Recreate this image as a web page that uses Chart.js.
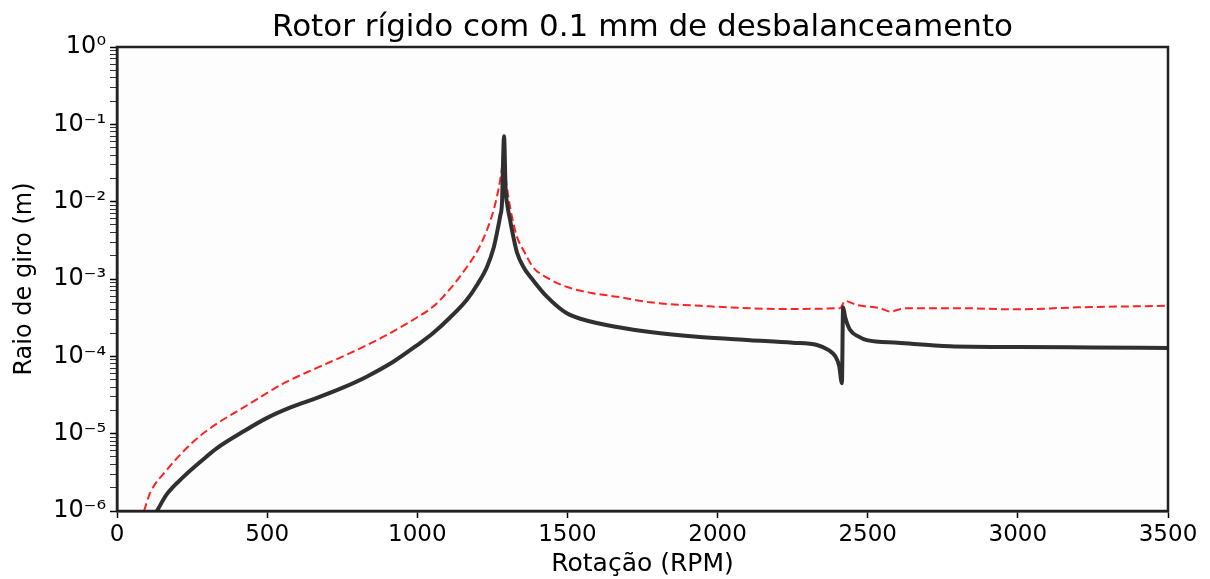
<!DOCTYPE html>
<html>
<head>
<meta charset="utf-8">
<script src="https://cdn.jsdelivr.net/npm/chart.js@4.4.0/dist/chart.umd.min.js"></script>
<style>
    html, body { margin: 0; padding: 0; background: #fff; }
    #wrap { width: 1210px; height: 579px; }
</style>
</head>
<body>
<div id="wrap"><canvas id="rotorChart"></canvas></div>
<script>
// Curva preta (sólida)
const blackRpm = [133, 166, 223, 280, 333, 423, 500, 580, 666, 750, 833, 920, 1000, 1053, 1110, 1165, 1200, 1232, 1255, 1265, 1276, 1282, 1289, 1294, 1300, 1309, 1320, 1332, 1355, 1385, 1430, 1498, 1580, 1665, 1775, 1941, 2108, 2250, 2331, 2370, 2392, 2405, 2414, 2418, 2425, 2441, 2470, 2497, 2600, 2774, 3000, 3250, 3500];
const blackRadius = [1.0e-6, 1.65e-6, 2.8e-6, 4.4e-6, 6.5e-6, 1.08e-5, 1.6e-5, 2.2e-5, 2.9e-5, 3.9e-5, 5.5e-5, 8.5e-5, 1.4e-4, 2.0e-4, 3.2e-4, 5.4e-4, 8.5e-4, 1.43e-3, 2.6e-3, 3.9e-3, 6.5e-3, 9.6e-3, 7.0e-2, 1.5e-2, 9.0e-3, 5.8e-3, 3.5e-3, 2.2e-3, 1.4e-3, 9.7e-4, 6.0e-4, 3.6e-4, 2.8e-4, 2.4e-4, 2.06e-4, 1.78e-4, 1.62e-4, 1.5e-4, 1.4e-4, 1.2e-4, 1.0e-4, 7.5e-5, 4.5e-5, 4.3e-4, 3.2e-4, 2.2e-4, 1.8e-4, 1.62e-4, 1.5e-4, 1.35e-4, 1.32e-4, 1.3e-4, 1.28e-4];

// Curva vermelha (tracejada)
const redRpm = [90, 110, 166, 223, 276, 333, 423, 556, 666, 776, 886, 1000, 1053, 1110, 1165, 1200, 1232, 1255, 1265, 1276, 1282, 1287, 1292, 1300, 1309, 1320, 1332, 1355, 1385, 1430, 1498, 1580, 1665, 1775, 1941, 2218, 2408, 2425, 2464, 2540, 2574, 2630, 2800, 2997, 3200, 3497];
const redRadius = [1.0e-6, 1.7e-6, 3.4e-6, 6.0e-6, 9.3e-6, 1.35e-5, 2.2e-5, 4.5e-5, 7.1e-5, 1.1e-4, 1.78e-4, 3.2e-4, 4.4e-4, 7.5e-4, 1.43e-3, 2.3e-3, 4.3e-3, 8.0e-3, 1.15e-2, 1.9e-2, 2.8e-2, 4.5e-2, 2.5e-2, 1.4e-2, 8.5e-3, 5.3e-3, 3.5e-3, 2.3e-3, 1.43e-3, 1.05e-3, 7.9e-4, 6.6e-4, 5.9e-4, 5.0e-4, 4.5e-4, 4.1e-4, 4.2e-4, 5.2e-4, 4.6e-4, 4.2e-4, 3.8e-4, 4.2e-4, 4.2e-4, 4.05e-4, 4.3e-4, 4.5e-4];

// Eixos
const chartTitle = 'Rotor rígido com 0.1 mm de desbalanceamento';
const xTicks = [0, 500, 1000, 1500, 2000, 2500, 3000, 3500];
const yExponents = [-6, -5, -4, -3, -2, -1, 0];
const yTickLabels = ['10⁻⁶', '10⁻⁵', '10⁻⁴', '10⁻³', '10⁻²', '10⁻¹', '10⁰'];
const yMinorMantissas = [2, 3, 4, 5, 6, 7, 8, 9];

const toPoints = (xs, ys) => xs.map((x, i) => ({ x: x, y: ys[i] }));

// fundo, moldura e título centrado na área do gráfico (como o matplotlib)
const framePlugin = {
    id: 'frame',
    beforeDraw(chart) {
        const { ctx, chartArea: a } = chart;
        ctx.save();
        ctx.fillStyle = '#fdfdfd';
        ctx.fillRect(a.left, a.top, a.right - a.left, a.bottom - a.top);
        ctx.restore();
    },
    afterDatasetsDraw(chart) {
        const { ctx, chartArea: a } = chart;
        ctx.save();
        ctx.strokeStyle = '#222';
        ctx.lineWidth = 2.5;
        ctx.strokeRect(a.left, a.top, a.right - a.left, a.bottom - a.top);
        ctx.restore();
    },
    afterDraw(chart) {
        const { ctx, chartArea: a } = chart;
        ctx.save();
        ctx.fillStyle = '#000';
        ctx.font = '31px "DejaVu Sans"';
        ctx.textAlign = 'center';
        ctx.textBaseline = 'alphabetic';
        ctx.fillText(chartTitle, (a.left + a.right) / 2, 36);
        ctx.restore();
    }
};

const ctx = document.getElementById('rotorChart');
new Chart(ctx, {
    type: 'line',
    data: {
        datasets: [{
            data: toPoints(blackRpm, blackRadius),
            borderColor: '#303030',
            borderWidth: 4,
            pointRadius: 0,
            cubicInterpolationMode: 'monotone'
        }, {
            data: toPoints(redRpm, redRadius),
            borderColor: '#ff2222',
            borderWidth: 2,
            borderDash: [8, 4],
            pointRadius: 0,
            cubicInterpolationMode: 'monotone'
        }]
    },
    options: {
        responsive: true,
        maintainAspectRatio: false,
        animation: false,
        layout: { padding: { left: 0, right: 42, top: 47, bottom: 0 } },
        plugins: {
            legend: { display: false },
            tooltip: { enabled: false },
            title: { display: false }
        },
        scales: {
            x: {
                type: 'linear',
                min: 0,
                max: 3500,
                afterBuildTicks: (axis) => { axis.ticks = xTicks.map(v => ({ value: v })); },
                afterFit: (axis) => { axis.height = 68; },
                ticks: {
                    color: '#000',
                    padding: 3,
                    autoSkip: false,
                    maxRotation: 0,
                    font: { family: 'DejaVu Sans', size: 23 },
                    callback: (value) => String(value)
                },
                grid: { drawOnChartArea: false, drawTicks: true, tickLength: 7, tickColor: '#000', tickWidth: 1.5 },
                border: { display: true, color: '#222', width: 2.5 },
                title: {
                    display: true,
                    text: 'Rotação (RPM)',
                    color: '#000',
                    font: { family: 'DejaVu Sans', size: 25 },
                    padding: { top: 0, bottom: 0 }
                }
            },
            y: {
                type: 'logarithmic',
                min: 1e-6,
                max: 1,
                afterBuildTicks: (axis) => {
                    const ticks = [];
                    yExponents.forEach(e => {
                        ticks.push({ value: Math.pow(10, e), major: true });
                        if (e < 0) {
                            yMinorMantissas.forEach(m => ticks.push({ value: m * Math.pow(10, e), major: false }));
                        }
                    });
                    axis.ticks = ticks;
                },
                afterFit: (axis) => { axis.width = 117; },
                ticks: {
                    color: '#000',
                    padding: 4,
                    autoSkip: false,
                    font: { family: 'DejaVu Sans', size: 24 },
                    callback: function (value) {
                        const e = Math.round(Math.log10(value));
                        if (Math.abs(Math.log10(value) - e) > 1e-6) return '';
                        return yTickLabels[yExponents.indexOf(e)];
                    }
                },
                grid: {
                    drawOnChartArea: false,
                    drawTicks: true,
                    tickLength: 7,
                    tickColor: '#000',
                    tickWidth: (c) => (c.tick && c.tick.major ? 1.5 : 0.8)
                },
                border: { display: true, color: '#222', width: 2.5 },
                title: {
                    display: true,
                    text: 'Raio de giro (m)',
                    color: '#000',
                    font: { family: 'DejaVu Sans', size: 24 },
                    padding: { top: 10, bottom: 4 }
                }
            }
        }
    },
    plugins: [framePlugin]
});
</script>
</body>
</html>
